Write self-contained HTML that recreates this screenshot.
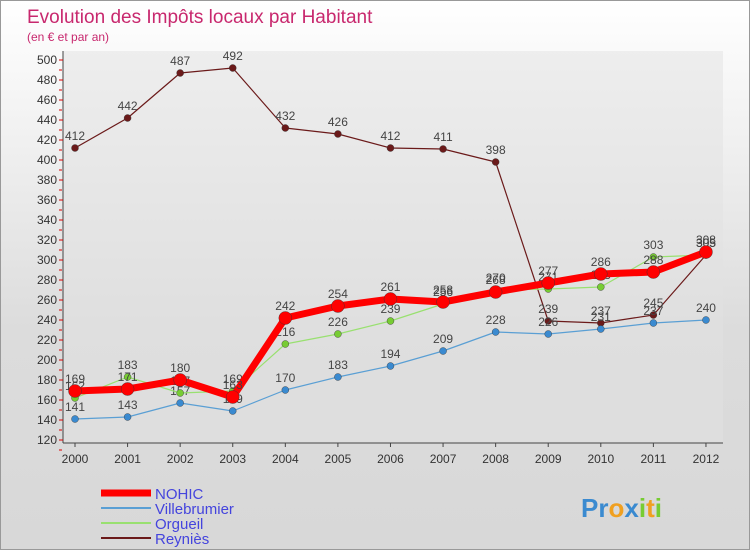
<!DOCTYPE html>
<html><head><meta charset="utf-8"><style>
body{margin:0;width:750px;height:550px;overflow:hidden;font-family:"Liberation Sans",sans-serif}
#wrap{position:relative;width:748px;height:548px;border:1px solid #999;background:linear-gradient(#fff,#dcdcdc 60%,#d8d8d8)}
</style></head><body>
<div id="wrap">
<svg id="svg" width="748" height="548" xmlns="http://www.w3.org/2000/svg" style="position:absolute;left:0;top:0"></svg>
</div>
<script>
const years=["2000","2001","2002","2003","2004","2005","2006","2007","2008","2009","2010","2011","2012"];
const nohic=[169,171,180,163,242,254,261,258,268,277,286,288,308];
const villebrumier=[141,143,157,149,170,183,194,209,228,226,231,237,240];
const orgueil=[162,183,167,169,216,226,239,256,270,271,273,303,305];
const reynies=[412,442,487,492,432,426,412,411,398,239,237,245,305];
const yTicks=[140,160,180,200,220,240,260,280,300,320,340,360,380,400,420,440,460,480,500,120];
const NS="http://www.w3.org/2000/svg";
const svg=document.getElementById('svg');
const X=i=>74+i*52.58, Y=v=>419-(v-140)*1.0;
function el(t,a,p){const e=document.createElementNS(NS,t);for(const k in a)e.setAttribute(k,a[k]);(p||svg).appendChild(e);return e;}
function tx(x,y,s,a){const e=el('text',Object.assign({x:x,y:y},a));e.textContent=s;return e;}
let t=tx(26,22,"Evolution des Impôts locaux par Habitant",{fill:"#c8286e","font-size":19});


t=tx(26,40,"(en € et par an)",{fill:"#c8286e","font-size":12});


let bg=el('rect',{x:62,y:50,width:660,height:392,fill:"#e2e2e2",opacity:0.5});


el('line',{x1:62,y1:50,x2:62,y2:442,stroke:"#444"});
el('line',{x1:62,y1:442,x2:722,y2:442,stroke:"#444"});
yTicks.forEach(v=>{const y=Y(v);
 el('line',{x1:58,y1:y,x2:62,y2:y,stroke:"#d00"});
 el('line',{x1:58,y1:y+10,x2:61,y2:y+10,stroke:"#d00"});
 const l=tx(56,y+4,String(v),{"font-size":12,fill:"#333","text-anchor":"end"});
 
 });
years.forEach((yr,i)=>{el('line',{x1:X(i),y1:442,x2:X(i),y2:446,stroke:"#444"});
 const l=tx(X(i),462,yr,{"font-size":12,fill:"#333","text-anchor":"middle"});
 
 });
function series(d,color,w,r,dot,name){
 const g=el('g',{});
 
 
 el('polyline',{points:d.map((v,i)=>X(i)+","+Y(v)).join(" "),fill:"none",stroke:color,"stroke-width":w,"stroke-linejoin":"round"},g);
 d.forEach((v,i)=>{const c=el('circle',{cx:X(i),cy:Y(v),r:r,fill:dot,stroke:"#333","stroke-width":0.4},g);
  
  
  const l=tx(X(i),Y(v)-8,String(v),{"font-size":12,fill:"#444","text-anchor":"middle"},g);
  
  });
}
series(reynies,"#6b1a1a",1.2,3.5,"#6b1a1a","reynies");
series(villebrumier,"#5a9fd4",1.2,3.5,"#3a8ad0","villebrumier");
series(orgueil,"#99e070",1.2,3.5,"#77cc33","orgueil");
series(nohic,"#ff0000",7,6.5,"#ff0000","nohic");
const leg=[["NOHIC","#ff0000",7],["Villebrumier","#5a9fd4",2],["Orgueil","#99e070",2],["Reyniès","#6b1a1a",2]];
leg.forEach((l,i)=>{const y=492+i*15;const g=el('g',{});
 
 
 el('line',{x1:100,y1:y,x2:150,y2:y,stroke:l[1],"stroke-width":l[2]},g);
 tx(154,y+6,l[0],{"font-size":15,fill:"#4444dd"},g);});
const lg=tx(580,516,"",{"font-size":26,"font-weight":"bold"});


[["Pr","#3a8ad0"],["o","#f0a020"],["x","#3a8ad0"],["i","#77cc33"],["t","#f0a020"],["i","#77cc33"]].forEach(p=>{const s=el('tspan',{fill:p[1]},lg);s.textContent=p[0];});
</script>
</body></html>
